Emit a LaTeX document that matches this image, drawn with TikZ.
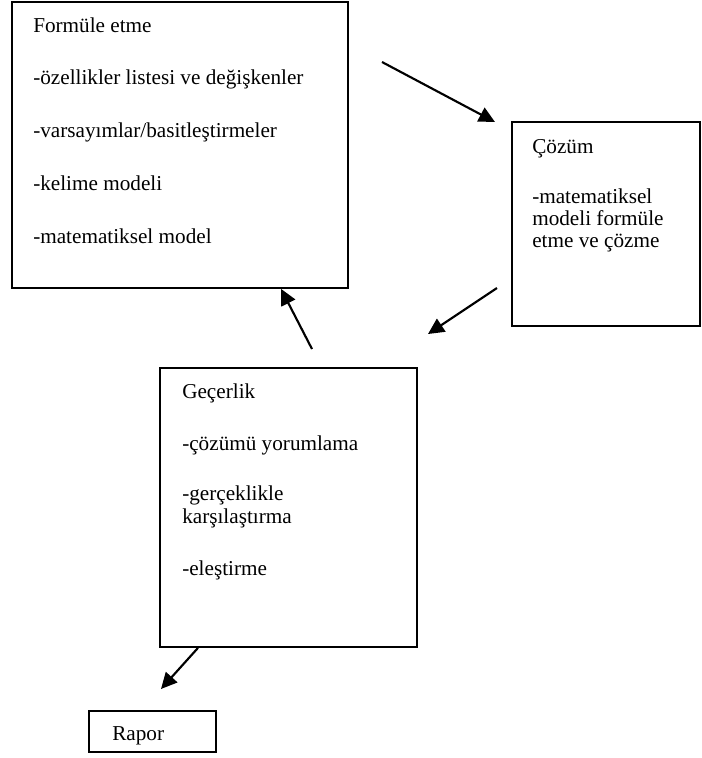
\documentclass[tikz,border=0pt]{standalone}
\usepackage{fontspec}
\setmainfont{Liberation Serif}
\usetikzlibrary{fit,arrows.meta}
\begin{document}
\begin{tikzpicture}[x=0.75pt,y=-0.75pt,
  box/.style={draw=black,line width=1.3pt,inner sep=0pt},
  txt/.style={anchor=base west,inner sep=0pt,font=\fontsize{15.9pt}{18pt}\selectfont},
  arr/.style={line width=1.6pt,-{Triangle[length=12pt,width=11.5pt]}}]
\useasboundingbox (0,0) rectangle (701,758);
% boxes
\node[box,fit={(12,2) (348,288)}] (form) {};
\node[box,fit={(512,122) (700,326)}] (coz) {};
\node[box,fit={(160,368) (417,647)}] (gec) {};
\node[box,fit={(89,711) (216,752)}] (rap) {};
% texts box 1
\node[txt] (f1) at (33,32) {Formüle etme};
\node[txt] (f2) at (33,84) {-özellikler listesi ve değişkenler};
\node[txt] (f3) at (33,137) {-varsayımlar/basitleştirmeler};
\node[txt] (f4) at (33,190) {-kelime modeli};
\node[txt] (f5) at (33,243) {-matematiksel model};
% texts box 2
\node[txt] (c1) at (532,153) {Çözüm};
\node[txt] (c2) at (532,203) {-matematiksel};
\node[txt] (c3) at (532,225) {modeli formüle};
\node[txt] (c4) at (532,247) {etme ve çözme};
% texts box 3
\node[txt] (g1) at (182,398) {Geçerlik};
\node[txt] (g2) at (182,450) {-çözümü yorumlama};
\node[txt] (g3) at (182,500) {-gerçeklikle};
\node[txt] (g4) at (182,523) {karşılaştırma};
\node[txt] (g5) at (182,575) {-eleştirme};
% text box 4
\node[txt] (r1) at (112,740) {Rapor};
% arrow end points
\coordinate (a1s) at (382,62);
\coordinate (a1e) at (495,122);
\coordinate (a2s) at (497,288);
\coordinate (a2e) at (428,334);
\coordinate (a3s) at (312,349);
\coordinate (a3e) at (form.south -| 281,0);
\coordinate (a4s) at (gec.south -| 198,0);
\coordinate (a4e) at (161,689);
\draw[arr] (a1s) -- (a1e);
\draw[arr] (a2s) -- (a2e);
\draw[arr] (a3s) -- (a3e);
\draw[arr] (a4s) -- (a4e);
\end{tikzpicture}
\end{document}
